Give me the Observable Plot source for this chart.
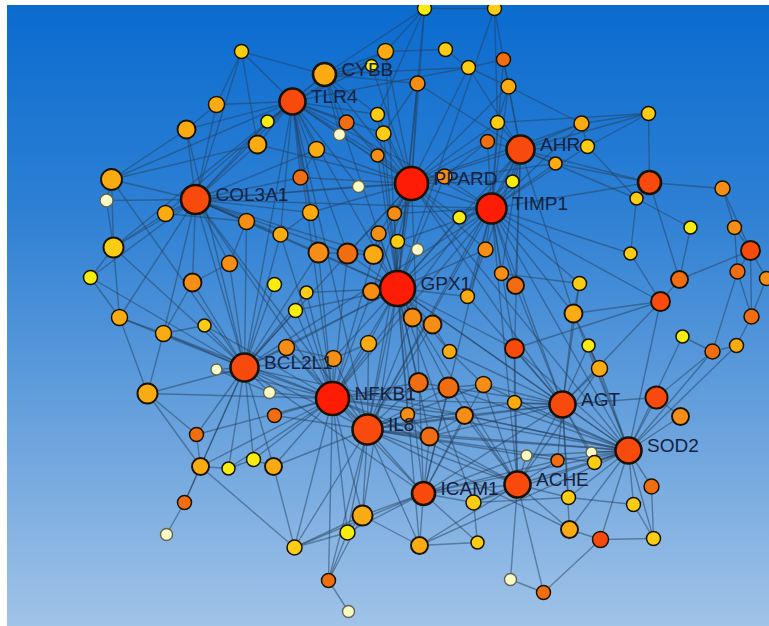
<!DOCTYPE html>
<html><head><meta charset="utf-8">
<script src="https://cdn.jsdelivr.net/npm/d3@7"></script>
<script src="https://cdn.jsdelivr.net/npm/@observablehq/plot@0.6"></script>
<style>
html,body{margin:0;padding:0;background:#fff;width:769px;height:626px;overflow:hidden;}
#wrap{position:absolute;left:7px;top:5px;width:762px;height:621px;overflow:hidden;
  background:linear-gradient(to bottom,#0a6bcf 0%,#2e80d4 33%,#66a0dc 66%,#a0c3e8 100%);}
#wrap svg{position:absolute;left:-7px;top:-5px;background:transparent !important;
  max-width:none !important;width:769px !important;height:626px !important;}
</style></head><body><div id="wrap"></div>
<script>
// Hub gene labels (node index 0..13)
const hubLabels = ["GPX1","NFKB1","PPARD","TIMP1","IL8","BCL2L1","COL3A1","AHR","TLR4","SOD2","ACHE","AGT","CYBB","ICAM1"];

// Node layout coordinates (network layout units)
const nodeX = [397,332,411,491,367,244,195,520,292,628,517,562,324,423,
424,494,241,385,445,468,503,371,417,508,216,267,346,377,339,383,
497,487,186,257,316,377,581,587,648,555,111,106,300,358,444,
512,649,722,636,165,246,310,394,459,113,229,280,378,397,417,
318,347,373,485,690,734,750,90,192,274,306,371,467,501,515,
630,579,679,737,766,660,295,119,163,204,412,432,573,751,682,
736,712,588,514,216,286,333,368,449,147,269,418,448,483,599,
514,656,680,196,274,407,464,429,526,557,591,594,200,228,253,
273,473,651,568,633,184,362,347,294,419,477,569,600,653,166,
328,348,510,543];
const nodeY = [288,398,183,208,429,367,199,149,101,450,484,404,74,493,
8,8,51,51,49,67,59,65,83,86,104,121,122,114,134,133,
122,141,129,144,149,155,123,146,113,163,179,200,177,186,176,
181,182,188,198,213,221,212,213,217,247,263,234,233,241,249,
252,253,254,249,227,227,250,277,282,284,292,291,296,273,285,
253,283,279,271,278,301,310,317,333,325,317,324,313,316,336,
345,351,345,348,369,347,358,343,351,393,392,382,387,384,368,
402,397,416,434,415,414,415,436,455,460,452,462,466,468,459,
466,502,486,497,504,502,515,532,547,545,542,529,539,538,534,
580,611,579,592];
// Node degree (drives size)
const nodeDegree = [49,45,45,39,39,35,37,35,31,31,31,31,25,25,
7,7,7,11,7,7,7,3,9,9,11,5,9,7,3,9,
7,7,15,15,11,5,9,7,7,5,21,5,9,3,9,
5,25,9,5,11,11,11,7,5,19,11,9,9,7,3,
19,19,17,9,5,7,17,7,15,7,5,13,7,7,13,
5,7,13,9,7,17,7,11,11,5,15,15,15,9,5,
7,9,5,17,1,11,11,11,7,19,3,17,19,11,11,
7,23,13,7,7,7,13,15,1,5,1,7,13,5,7,
13,9,9,7,7,7,19,9,9,13,5,13,11,7,3,
7,3,3,7];
// Node score class (drives colour, 0 = lowest .. 7 = highest)
const nodeScore = [7,7,7,7,6,6,6,6,6,6,6,6,3,6,
1,2,2,3,2,2,5,1,4,3,3,1,5,2,0,2,
2,5,3,3,3,4,3,2,2,3,3,0,5,0,4,
1,6,4,2,3,4,3,4,1,2,4,3,4,2,0,
4,5,3,4,1,4,6,1,4,1,2,4,3,4,5,
2,2,5,5,4,6,1,3,3,2,4,4,3,5,1,
3,5,1,6,0,4,4,3,3,3,0,5,5,4,3,
3,6,4,5,5,4,4,5,0,5,0,2,3,1,1,
3,2,5,2,2,5,3,1,2,3,2,3,6,2,0,
5,0,0,5];
const scoreColors = ["#fbfac4","#f6ec12","#fbcc14","#fbab12","#f68d14","#f06d12","#f84a0c","#ff1c04"];

// Interactions: [node, [neighbours]]
const adjacency = [
 [0,[1,2,3,4,5,6,7,8,9,10,11,12,13,14,15,17,22,27,29,35,44,52,53,57,58,59,60,61,62,63,70,71,72,81,85,86,93,95,96,97,98,101,102,110,112,121,126,129]],
 [1,[2,3,4,5,6,7,8,9,10,11,13,56,60,61,62,70,81,83,84,94,95,96,97,99,100,101,102,108,109,111,112,117,118,119,120,126,127,128,135]],
 [2,[3,4,5,6,7,8,9,11,12,13,14,17,19,21,22,23,26,27,28,29,30,31,33,34,35,36,39,42,43,44,45,51,52,53,57,58,61,62,63]],
 [3,[4,5,6,7,8,9,10,11,13,20,23,30,31,36,37,39,44,45,46,52,53,58,63,72,73,74,75,76,80,87,93]],
 [4,[5,6,7,8,9,10,11,13,85,86,95,96,97,101,102,103,105,109,110,111,112,114,116,120,126,127,128,129,131,135]],
 [5,[6,8,9,13,32,40,50,54,55,56,60,67,68,69,70,81,82,83,84,94,95,96,99,100,108,117,118,119,120,125]],
 [6,[8,16,24,25,32,33,34,40,41,42,43,49,50,51,54,55,56,60,61,62,67,68,82,83]],
 [7,[19,20,22,23,30,31,36,37,38,39,45,46,48,63,73,74,87,93]],
 [8,[12,16,17,19,21,24,25,26,27,28,29,32,33,34,35,40,42,43,49,51,54,56,60,61]],
 [9,[10,11,13,80,87,89,90,91,92,93,102,103,104,105,106,107,111,112,113,114,115,116,121,122,123,124,129,131,132,133]],
 [10,[11,13,93,102,103,104,105,111,112,113,114,121,123,129,131,137,138]],
 [11,[13,72,74,76,80,87,92,93,98,102,103,104,105,106,111,112,114,115,116,123,131]],
 [12,[14,16,17,19,21,22,25,26,27,28]],
 [13,[102,103,111,112,113,114,121,126,127,128,129,130]],
 [14,[15,17,27]],[15,[20,30]],[17,[18]],[18,[19]],[19,[20,23]],[20,[23]],[22,[29]],[23,[30,36]],
 [24,[16,32]],[32,[40]],[40,[33,41,54]],[41,[54]],[54,[49,67,82]],[67,[82]],[82,[83,99]],[83,[68,84,99]],
 [99,[108,117]],[16,[33]],[36,[37,38]],[37,[38,48]],[38,[30,46]],[46,[39,47,48,77]],[47,[65,66]],
 [65,[66,78]],[64,[48,77]],[66,[77,78,79,88]],[77,[80]],[78,[88,91]],[88,[79,90]],[90,[91]],[89,[91]],
 [91,[106]],[80,[75,87,93]],[87,[76,104]],[92,[104]],[106,[107]],[117,[108,118,125,128]],[125,[134]],
 [118,[119]],[119,[120]],[120,[128]],[127,[128,135]],[126,[127,128,129,135]],[135,[136]],
 [121,[123,130]],[129,[130]],[123,[124]],[131,[132]],[132,[133,138]],[137,[138]],[124,[133]],[122,[133]],
 [75,[48]],[73,[74,76]],[63,[72]],[85,[86]],[101,[102]],[102,[103]],[96,[95,97]],[100,[94]],
 [55,[50,68]],[49,[50]],[57,[62]],[58,[59]],[61,[60,62]],[56,[51]],[34,[42]],[26,[35]],[31,[44]],
 [44,[52]],[45,[53]],[98,[86,103]],[110,[112]],[111,[112]],[105,[93]]
];

const rOpts = {type: "linear", domain: [1, 49], range: [5.5, 17.5]};
const rScale = Plot.scale({r: rOpts});

const nodes = nodeX.map((x, i) => ({
  id: i, name: i < hubLabels.length ? hubLabels[i] : "", x, y: nodeY[i],
  degree: nodeDegree[i], score: nodeScore[i]
}));
const seen = new Set();
const links = [];
for (const [a, nbrs] of adjacency) {
  for (const b of nbrs) {
    const k = a < b ? a + "-" + b : b + "-" + a;
    if (a === b || seen.has(k)) continue;
    seen.add(k);
    links.push({x1: nodes[a].x, y1: nodes[a].y, x2: nodes[b].x, y2: nodes[b].y});
  }
}
const ordered = nodes.slice().sort((a, b) => a.degree - b.degree);
const paleNodes = ordered.filter(d => d.score === 0);
const colNodes = ordered.filter(d => d.score > 0);
const hubs = nodes.filter(d => d.name);

const sw = d => d.degree >= 25 ? 2.6 : d.degree >= 13 ? 1.9 : 1.5;

const chart = Plot.plot({
  width: 769, height: 626,
  margin: 0,
  x: {domain: [0, 769], axis: null},
  y: {domain: [0, 626], reverse: true, axis: null},
  r: rOpts,
  color: {type: "ordinal", domain: d3.range(scoreColors.length), range: scoreColors},
  style: {background: "transparent", overflow: "visible"},
  marks: [
    Plot.link(links, {x1: "x1", y1: "y1", x2: "x2", y2: "y2", stroke: "#243f5e", strokeOpacity: 0.5, strokeWidth: 1.4}),
    Plot.dot(paleNodes, {x: "x", y: "y", r: "degree", fill: "score", stroke: "#5d6452", strokeWidth: 1.4}),
    Plot.dot(colNodes, {x: "x", y: "y", r: "degree", fill: "score", stroke: "#1a1206", strokeWidth: sw}),
    ...hubs.map(h => Plot.text([h], {
      x: "x", y: "y", text: "name", textAnchor: "start", lineAnchor: "middle",
      dx: rScale.apply(h.degree) + 5.5, dy: -5,
      fill: "#13213f", fontSize: 19, fontFamily: "Liberation Sans, Arial, sans-serif"
    }))
  ]
});
document.getElementById("wrap").appendChild(chart);
</script></body></html>
